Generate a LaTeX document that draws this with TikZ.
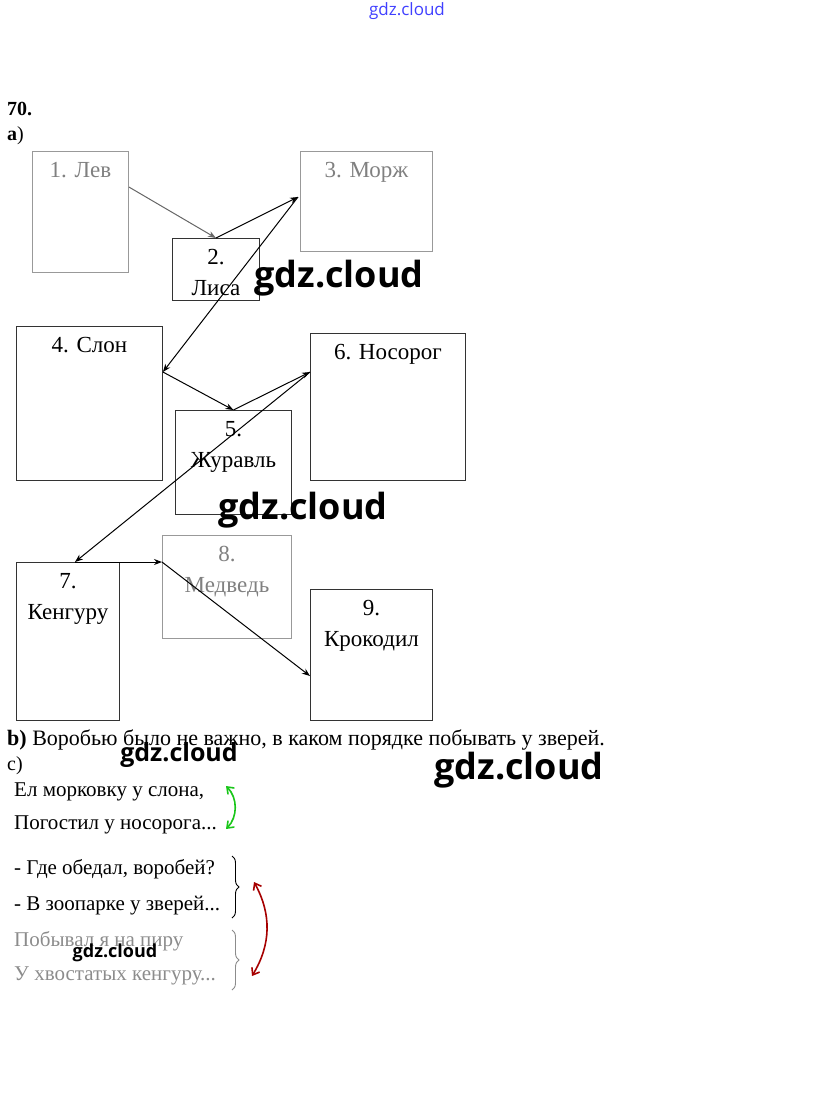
\documentclass[tikz,border=0pt]{standalone}
\usepackage{fontspec}
\setmainfont{Liberation Serif}
\newfontfamily\wmfont{Open Sans}
\usepackage{tikz}
\usetikzlibrary{arrows.meta,positioning,calc,decorations.pathreplacing}

\begin{document}
\begin{tikzpicture}[
  x=1pt,y=-1pt,
  font=\fontsize{23}{31}\selectfont,
  box/.style={draw=black!80,line width=0.9pt,anchor=north west,inner sep=0pt},
  faint/.style={box,draw=black!40,text=black!50},
  ttl/.style={anchor=north,align=center,inner sep=0pt,yshift=-11pt},
  arr/.style={-{Stealth[length=8pt,width=6pt]},line width=1pt},
  txt/.style={anchor=base west,inner sep=0pt,font=\fontsize{21}{24}\selectfont},
  wm/.style={font=\wmfont\bfseries\fontsize{36}{40}\selectfont},
  brc/.style={decorate,decoration={brace,amplitude=7pt},line width=0.9pt},
  swap/.style={{Straight Barb[length=6pt,width=9pt]}-{Straight Barb[length=6pt,width=9pt]},line width=1.6pt}
]
\useasboundingbox (0,0) rectangle (815,1096);
% heading
\node[anchor=base west,inner sep=0pt,font=\bfseries\fontsize{20}{24}\selectfont] (num) at (7,115) {70.};
\node[anchor=base west,inner sep=0pt,font=\fontsize{20}{24}\selectfont] (pa) at (7,140) {\textbf{a})};
% boxes
\node[faint,minimum width=96pt,minimum height=121pt,label={[ttl,text=black!50]north:1. Лев}] (lev) at (32,151) {};
\node[box,minimum width=87pt,minimum height=62pt,label={[ttl]north:2.\\Лиса}] (lisa) at (172,238) {};
\node[faint,minimum width=132pt,minimum height=100pt,label={[ttl,text=black!50]north:3. Морж}] (morzh) at (300,151) {};
\node[box,minimum width=146pt,minimum height=154pt,label={[ttl]north:4. Слон}] (slon) at (16,326) {};
\node[box,minimum width=116pt,minimum height=104pt,label={[ttl]north:5.\\Журавль}] (zhur) at (175,410) {};
\node[box,minimum width=155pt,minimum height=147pt,label={[ttl]north:6. Носорог}] (nosorog) at (310,333) {};
\node[box,minimum width=103pt,minimum height=158pt,label={[ttl]north:7.\\Кенгуру}] (kenguru) at (16,562) {};
\node[faint,minimum width=129pt,minimum height=103pt,label={[ttl,text=black!50]north:8.\\Медведь}] (medved) at (162,535) {};
\node[box,minimum width=122pt,minimum height=131pt,label={[ttl]north:9.\\Крокодил}] (krokodil) at (310,589) {};
% ends of the arrows
\coordinate (levR) at ($(lev.north east)+(0,36)$);
\coordinate (morzhL) at ($(morzh.north west)+(-2,46)$);
\coordinate (slonR) at ($(slon.north east)+(0,46)$);
\coordinate (nosL) at ($(nosorog.north west)+(0,39)$);
\coordinate (kengT) at ($(kenguru.north west)+(59,0)$);
\coordinate (medL) at ($(medved.north west)+(0,27)$);
\coordinate (krokL) at ($(krokodil.north west)+(0,87)$);
\draw[arr,black!60] (levR) -- (lisa.north);
\draw[arr] (lisa.north) -- (morzhL);
\draw[arr] (morzhL) -- (slonR);
\draw[arr] (slonR) -- (zhur.north);
\draw[arr] (zhur.north) -- (nosL);
\draw[arr] (nosL) -- (kengT);
\draw[arr] (kengT) -- (medL);
\draw[arr] (medL) -- (krokL);
% b) and c)
\node[anchor=base west,inner sep=0pt,font=\fontsize{22}{24}\selectfont] (pb) at (7,745) {\textbf{b)} Воробью было не важно, в каком порядке побывать у зверей.};
\node[anchor=base west,inner sep=0pt,font=\fontsize{20}{24}\selectfont] (pc) at (7,770) {c)};
\node[txt] (l1) at (14,796) {Ел морковку у слона,};
\node[txt] (l2) at (14,829) {Погостил у носорога...};
\node[txt] (l3) at (14,874) {- Где обедал, воробей?};
\node[txt] (l4) at (14,910) {- В зоопарке у зверей...};
\node[txt,text=black!45] (l5) at (14,946) {Побывал я на пиру};
\node[txt,text=black!45] (l6) at (14,980) {У хвостатых кенгуру...};
\coordinate (gT) at (226,786);
\coordinate (gB) at (226,829);
\draw[swap,green!75!black!90] (gT) to[bend left=45] (gB);
\coordinate (b1T) at (232,856);
\coordinate (b1B) at (232,918);
\draw[brc] (b1T) -- (b1B);
\coordinate (b2T) at (232,930);
\coordinate (b2B) at (232,990);
\draw[brc,black!45] (b2T) -- (b2B);
\coordinate (rT) at (254,882);
\coordinate (rB) at (252,976);
\draw[swap,red!65!black] (rT) to[bend left=30] (rB);
% watermarks
\node[wm] (wm1) at (339,278) {gdz.cloud};
\node[wm] (wm2) at (303,510) {gdz.cloud};
\node[wm] (wm3) at (519,770) {gdz.cloud};
\node[wm,font=\wmfont\bfseries\fontsize{25}{28}\selectfont] (wm4) at (179,755) {gdz.cloud};
\node[wm,font=\wmfont\bfseries\fontsize{18}{21}\selectfont] (wm5) at (115,953) {gdz.cloud};
\node[wm,font=\wmfont\fontsize{17}{19}\selectfont,text=blue!75] (wm0) at (407,11) {gdz.cloud};
\end{tikzpicture}
\end{document}
